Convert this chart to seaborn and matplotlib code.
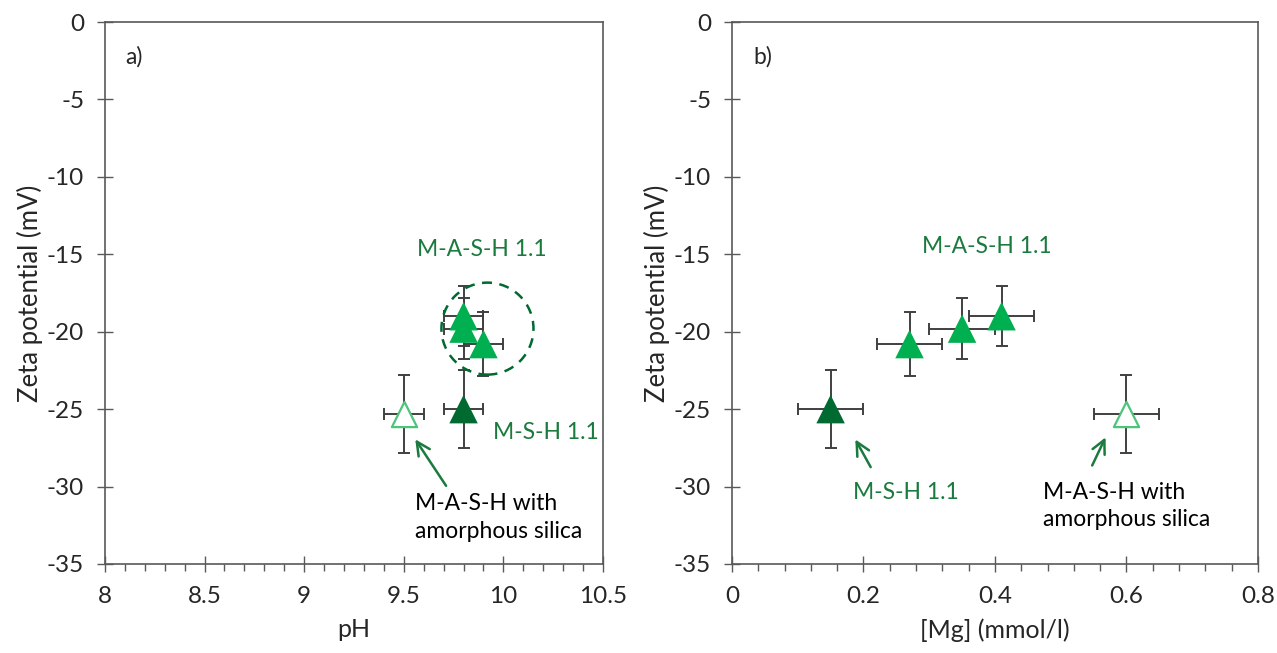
import numpy as np
import matplotlib.pyplot as plt
import pandas as pd
import seaborn as sns
from matplotlib.patches import Ellipse
from matplotlib.ticker import MultipleLocator, FuncFormatter

# Data
labels = ['M-A-S-H 1.1', 'M-A-S-H 1.1', 'M-A-S-H 1.1', 'M-S-H 1.1', 'M-A-S-H + silica']
ph = [9.8, 9.8, 9.9, 9.8, 9.5]
ph_err = [0.1, 0.1, 0.1, 0.1, 0.1]
mg = [0.41, 0.35, 0.27, 0.15, 0.60]
mg_err = [0.05, 0.05, 0.05, 0.05, 0.05]
zeta = [-19.0, -19.8, -20.8, -25.0, -25.3]
zeta_err = [1.95, 1.95, 2.05, 2.5, 2.5]

df = pd.DataFrame({'sample': labels, 'pH': ph, 'pH_err': ph_err,
                   'Mg': mg, 'Mg_err': mg_err, 'zeta': zeta, 'zeta_err': zeta_err})

sns.set_style("ticks")
plt.rcParams['font.family'] = ['Lato', 'DejaVu Sans']

green = '#00B050'
dark_green = '#006A31'
light_green = '#4CC57A'
text_green = '#1B7A3E'
frame = '#595959'

fig = plt.figure(figsize=(12.77, 6.53), dpi=100)
ax1 = fig.add_axes([0.0822, 0.1363, 0.39, 0.83])
ax2 = fig.add_axes([0.5732, 0.1363, 0.4119, 0.83])


def draw_points(ax, xcol, xerrcol):
    ax.errorbar(df[xcol], df['zeta'], xerr=df[xerrcol], yerr=df['zeta_err'],
                fmt='none', ecolor='#404040', elinewidth=1.4, capsize=4.5,
                capthick=1.4, zorder=2)
    filled = df[df['sample'] != 'M-A-S-H + silica']
    sns.scatterplot(data=filled, x=xcol, y='zeta', hue='sample',
                    palette={'M-A-S-H 1.1': green, 'M-S-H 1.1': dark_green},
                    marker='^', s=420, edgecolor='none', legend=False, ax=ax, zorder=3)
    hollow = df[df['sample'] == 'M-A-S-H + silica']
    ax.scatter(hollow[xcol], hollow['zeta'], marker='^', s=330, facecolors='white',
               edgecolors=light_green, linewidths=1.6, zorder=3)


def style_axes(ax, xlim, xmajor, xminor, xlabel, tag):
    ax.set_xlim(*xlim)
    ax.set_ylim(-35, 0)
    ax.xaxis.set_major_locator(MultipleLocator(xmajor))
    ax.xaxis.set_minor_locator(MultipleLocator(xminor))
    ax.yaxis.set_major_locator(MultipleLocator(5))
    fmt = FuncFormatter(lambda v, p: f'{v:g}')
    ax.xaxis.set_major_formatter(fmt)
    ax.yaxis.set_major_formatter(fmt)
    ax.tick_params(which='major', direction='inout', length=12, width=1,
                   color=frame, labelsize=17.5)
    ax.tick_params(which='minor', axis='x', direction='out', length=5, width=1, color=frame)
    ax.tick_params(axis='x', pad=10)
    ax.tick_params(axis='y', pad=9)
    for sp in ax.spines.values():
        sp.set_color(frame)
        sp.set_linewidth(1.2)
        sp.set_visible(True)
    ax.set_xlabel(xlabel, fontsize=18, labelpad=8)
    ax.set_ylabel('Zeta potential (mV)', fontsize=18.5, labelpad=3)
    ax.text(0.04, 0.955, tag, transform=ax.transAxes, fontsize=16.5, va='top')


# a) pH
draw_points(ax1, 'pH', 'pH_err')
ax1.add_patch(Ellipse((9.92, -19.8), 0.462, 5.94, fill=False, edgecolor=dark_green,
                      linestyle=(0, (4, 3)), linewidth=1.8, zorder=4))
ax1.text(9.89, -14.7, 'M-A-S-H 1.1', color=text_green, fontsize=16.5, ha='center', va='center')
ax1.text(9.95, -26.5, 'M-S-H 1.1', color=text_green, fontsize=16.5, ha='left', va='center')
ax1.text(9.556, -32.0, 'M-A-S-H with\namorphous silica', color='black', fontsize=16.5,
         ha='left', va='center', linespacing=1.4)
ax1.annotate('', xy=(9.55, -26.8), xytext=(9.72, -30.1),
             arrowprops=dict(arrowstyle='->', color=text_green, lw=1.8,
                             mutation_scale=24))
style_axes(ax1, (8, 10.5), 0.5, 0.1, 'pH', 'a)')

# b) [Mg]
draw_points(ax2, 'Mg', 'Mg_err')
ax2.text(0.388, -14.5, 'M-A-S-H 1.1', color=text_green, fontsize=16.5, ha='center', va='center')
ax2.text(0.184, -30.4, 'M-S-H 1.1', color=text_green, fontsize=16.5, ha='left', va='center')
ax2.text(0.473, -31.25, 'M-A-S-H with\namorphous silica', color='black', fontsize=16.5,
         ha='left', va='center', linespacing=1.4)
ax2.annotate('', xy=(0.1856, -26.8), xytext=(0.213, -28.9),
             arrowprops=dict(arrowstyle='->', color=text_green, lw=1.8,
                             mutation_scale=24))
ax2.annotate('', xy=(0.570, -26.66), xytext=(0.546, -28.8),
             arrowprops=dict(arrowstyle='->', color=text_green, lw=1.8,
                             mutation_scale=24))
style_axes(ax2, (0, 0.8), 0.2, 0.04, '[Mg] (mmol/l)', 'b)')

fig.savefig('out.png', dpi=100)
